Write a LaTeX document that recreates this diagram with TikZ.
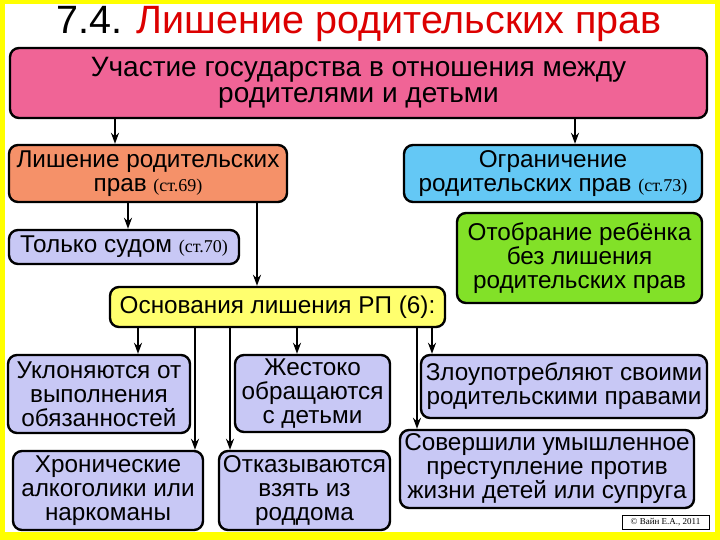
\documentclass[tikz,border=0pt]{standalone}
\usepackage{fontspec}
\setmainfont{Liberation Sans}
\newfontfamily\serfont{Liberation Serif}
\usetikzlibrary{arrows.meta}
\definecolor{cpink}{RGB}{240,100,150}
\definecolor{corange}{RGB}{245,145,105}
\definecolor{cblue}{RGB}{100,200,245}
\definecolor{clav}{RGB}{200,200,245}
\definecolor{cyel}{RGB}{255,255,110}
\definecolor{cgreen}{RGB}{130,225,40}
\definecolor{cframe}{RGB}{255,255,0}
\definecolor{ctitle}{RGB}{220,0,0}
\tikzset{
  box/.style={draw=black, line width=2.4pt, rounded corners=9pt, align=center, inner sep=0pt, font=\fontsize{24.3}{24}\selectfont},
  arr/.style={line width=2.6pt, -{Stealth[length=11pt,width=8pt]}},
}
\newcommand{\st}[1]{{\serfont\fontsize{18}{18}\selectfont #1}}
\begin{document}
\begin{tikzpicture}[x=1pt,y=-1pt]
\fill[cframe] (0,0) rectangle (720,540);
\fill[white] (5,4) rectangle (715,532);
\useasboundingbox (0,0) rectangle (720,540);
\node[font=\fontsize{39.5}{40}\selectfont, inner sep=0pt, anchor=base] (title) at (359,34) {7.4. \textcolor{ctitle}{Лишение родительских прав}};
\node[box, fill=cpink, minimum width=697pt, minimum height=70pt, font=\fontsize{28}{26.5}\selectfont] (pink) at (358.5,83) {Участие государства в отношения между\\ родителями и детьми};
\node[box, fill=corange, minimum width=278pt, minimum height=57pt] (orange) at (148,173.5) {Лишение родительских\\ прав \st{(ст.69)}};
\node[box, fill=cblue, minimum width=298pt, minimum height=57pt] (blue) at (553,173.5) {Ограничение\\ родительских прав \st{(ст.73)}};
\node[box, fill=clav, minimum width=230pt, minimum height=34pt] (court) at (124,247) {Только судом \st{(ст.70)}};
\node[box, fill=cyel, minimum width=335pt, minimum height=40pt] (grounds) at (277.5,307) {Основания лишения РП (6):};
\node[box, fill=cgreen, minimum width=245pt, minimum height=90pt] (green) at (579.5,258) {Отобрание ребёнка\\ без лишения\\ родительских прав};
\node[box, fill=clav, minimum width=182pt, minimum height=78pt] (b1) at (99,394) {Уклоняются от\\ выполнения\\ обязанностей};
\node[box, fill=clav, minimum width=190pt, minimum height=79pt] (b2) at (108,490.5) {Хронические\\ алкоголики или\\ наркоманы};
\node[box, fill=clav, minimum width=155pt, minimum height=77pt] (b3) at (312.5,393.5) {Жестоко\\ обращаются\\ с детьми};
\node[box, fill=clav, minimum width=171pt, minimum height=79pt] (b4) at (304.5,490.5) {Отказываются\\ взять из\\ роддома};
\node[box, fill=clav, minimum width=286pt, minimum height=63pt] (b5) at (564,386.5) {Злоупотребляют своими\\ родительскими правами};
\node[box, fill=clav, minimum width=294pt, minimum height=78pt] (b6) at (547,469) {Совершили умышленное\\ преступление против\\ жизни детей или супруга};
\node[draw=black, line width=0.6pt, fill=white, minimum width=87pt, minimum height=14pt, inner sep=0pt, font=\serfont\fontsize{9}{9}\selectfont] (copy) at (665.5,522) {© Вайн Е.А., 2011};
\coordinate (xa) at (115,0);
\coordinate (xb) at (575,0);
\coordinate (xc) at (128,0);
\coordinate (xd) at (257,0);
\coordinate (x1) at (138,0);
\coordinate (x2) at (195,0);
\coordinate (x4) at (230,0);
\coordinate (x3) at (297,0);
\coordinate (x6) at (417,0);
\coordinate (x5) at (432,0);
\draw[arr] (pink.south -| xa) -- (orange.north -| xa);
\draw[arr] (pink.south -| xb) -- (blue.north -| xb);
\draw[arr] (orange.south -| xc) -- (court.north -| xc);
\draw[arr] (orange.south -| xd) -- (grounds.north -| xd);
\draw[arr] (grounds.south -| x1) -- (b1.north -| x1);
\draw[arr] (grounds.south -| x2) -- (b2.north -| x2);
\draw[arr] (grounds.south -| x4) -- (b4.north -| x4);
\draw[arr] (grounds.south -| x3) -- (b3.north -| x3);
\draw[arr] (grounds.south -| x6) -- (b6.north -| x6);
\draw[arr] (grounds.south -| x5) -- (b5.north -| x5);
\end{tikzpicture}
\end{document}
